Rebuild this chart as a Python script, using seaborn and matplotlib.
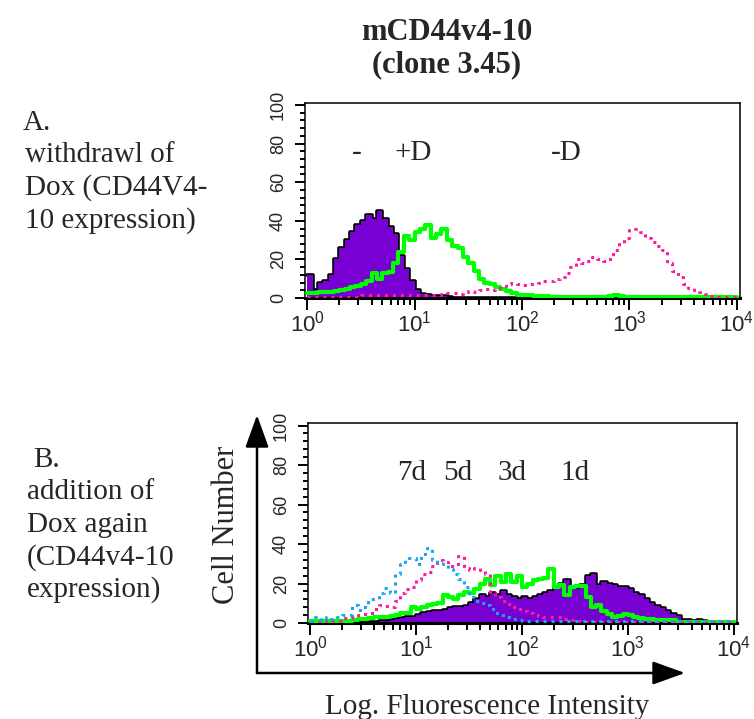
import numpy as np
import pandas as pd
import matplotlib
matplotlib.use("Agg")
import matplotlib.pyplot as plt
import seaborn as sns
from matplotlib.ticker import FixedLocator, MultipleLocator
from matplotlib import font_manager

# ---------------- data ----------------
decades = [0, 1, 2, 3, 4]
x_tick_labels = [r"$\mathregular{10^{%d}}$" % d for d in decades]
y_ticks = [0, 20, 40, 60, 80, 100]
y_tick_labels = ["0", "20", "40", "60", "80", "100"]

# channel grid: 80 channels over 4 decades (log10 units)
channel_edges = np.linspace(0, 4, 81)

# Panel A  (withdrawal of Dox)
a_neg = [12, 4, 8, 9, 12, 20, 26, 30, 34, 38,
         40, 43, 41, 45, 41, 37, 33, 22, 15, 9,
         4, 2, 1.5, 1, 1, 1, 0.5, 0, 0, 0,
         0, 0, 0, 0, 0, 0, 0, 0, 0, 0,
         0, 0, 0, 0, 0, 0, 0, 0, 0, 0,
         0, 0, 0, 0, 0, 0, 0.5, 1, 0.5, 0,
         0, 0, 0, 0, 0, 0, 0, 0, 0, 0,
         0, 0, 0, 0, 0, 0, 0, 0, 0, 0]
a_plus_dox = [2.5, 2.5, 3, 3, 3, 3.5, 4, 4.5, 5.5, 6,
              7.5, 9, 13, 10, 13, 13.5, 18, 24, 32, 30,
              34, 36, 38, 31, 33, 36, 30, 27, 26, 21,
              18, 14, 10, 8, 7, 5.5, 4.5, 3.5, 2.5, 1.8,
              1.5, 1.3, 1.2, 1.2, 1.0, 0.5, 0.5, 0.5, 0.5, 0.5,
              0.5, 0.5, 0.5, 0.5, 0.5, 0.5, 1, 1.5, 1, 0.5,
              0.5, 0.5, 0.5, 0.5, 0.5, 0.5, 0.5, 0.5, 0.5, 0.5,
              0.5, 0.5, 0.5, 0.5, 0.5, 0.5, 0.5, 0.5, 0.5, 0.5]
a_minus_dox = [0.5, 0.5, 0.5, 0.5, 0.5, 0.5, 0.5, 0.5, 0.5, 0.5,
               1.5, 1.5, 1.5, 1.5, 1.5, 1.5, 1.5, 1.5, 1.5, 1.5,
               1.5, 1.5, 1.5, 1.5, 1.5, 2, 2.5, 2.5, 2, 3,
               3.5, 3, 4, 4.5, 4, 5, 6, 7, 8, 7,
               6.5, 7.5, 7, 8, 9, 9, 10, 11, 13, 16,
               20, 18, 19, 21, 20, 19, 20, 25, 28, 31,
               35, 36, 34, 31, 29, 27, 25, 18, 14, 11,
               7, 5, 4, 3, 2, 1, 0.5, 0.5, 0.5, 0.5]
a_labels = ["-", "+D", "-D"]

# Panel B  (addition of Dox again)
b_1d = [0.5, 0.5, 0.5, 0.5, 0.5, 0.5, 0.5, 0.5, 0.5, 0.5,
        0.5, 0.5, 0.5, 1, 1.2, 1.5, 2, 2.5, 3, 3,
        4, 5, 5.5, 6, 6, 6.5, 7.5, 8, 8, 8.5,
        10, 12, 14, 13, 15, 14, 16, 14, 13, 12,
        13, 12, 13, 14, 15, 16, 18, 20, 22, 18,
        17, 19, 24, 25, 19, 21, 20, 19, 18, 18,
        17, 15, 14, 12, 10, 8.5, 7.5, 6, 4.5, 3.5,
        1.5, 1.5, 1.2, 1.5, 1, 0.5, 0.5, 0.5, 0.5, 0.5]
b_3d = [1, 1, 1, 1, 1, 1, 1, 1, 1.5, 2,
        2, 2.5, 3, 3, 3, 3.5, 4, 5, 5, 8,
        7, 8, 9, 9.5, 10, 14, 13, 12, 14, 15.5,
        15, 17, 20, 22.5, 19, 24, 21, 25, 21, 24,
        18, 20, 22, 22.5, 23, 27.5, 18, 19, 14, 18,
        18.5, 18.5, 13, 8, 9, 6, 4.5, 3, 3.5, 4.5,
        4, 3, 2.5, 2, 2, 1.5, 1.5, 1.5, 1.4, 0.5,
        0.5, 0.5, 0.5, 0.5, 0.5, 0.5, 0.5, 0.5, 0.5, 0.5]
b_5d = [0.5, 0.5, 1, 0.5, 1, 1, 2.5, 2.5, 3, 4,
        4.5, 5, 7, 9, 8.5, 8, 11, 15, 17, 18,
        22, 25, 26, 29, 32, 31, 29, 29, 34, 28,
        27, 28, 27, 25, 15, 13, 11, 9.5, 8, 7,
        6, 5, 4, 3.5, 3, 3, 3, 3, 2, 1.5,
        1, 0.5, 0.5, 0.5, 0.5, 0.5, 0.5, 0.5, 0.5, 0.5,
        0.5, 0.5, 0.5, 0.5, 0.5, 0.5, 0.5, 0.5, 0.5, 0.5,
        0.5, 0.5, 0.5, 0.5, 0.5, 0.5, 0.5, 0.5, 0.5, 0.5]
b_7d = [1, 3, 1.5, 3, 2, 3, 4, 4, 9, 6.5,
        8, 12, 12, 15, 17.5, 15, 25, 30, 33, 33,
        30, 35, 38, 32, 31, 30, 27.5, 25, 22.5, 18,
        13, 11, 10, 9, 7, 5, 4, 3, 2, 1.5,
        1, 1, 1, 1, 1, 1, 1, 1, 1, 1,
        1, 1, 1, 1, 1, 1, 1, 1, 1, 1,
        1, 1, 1, 1, 1, 1, 1, 1, 1, 1,
        1, 1, 1, 1, 1, 1, 1, 1, 1, 1]
b_labels = ["7d", "5d", "3d", "1d"]

# ---------------- style ----------------
PURPLE = "#7800D2"
GREEN = "#00FF00"
PINK = "#FF1A9E"
CYAN = "#12A6F5"

sns.set_theme(style="white")
names = {f.name for f in font_manager.fontManager.ttflist}
SANS = "Liberation Sans Narrow" if "Liberation Sans Narrow" in names else "Liberation Sans"
SERIF = "Liberation Serif"
plt.rcParams["font.family"] = [SERIF, "DejaVu Serif"]

W, H = 754, 719
fig = plt.figure(figsize=(W / 100, H / 100), dpi=100)


def fx(x):
    return x / W


def fy(y):
    return 1 - y / H


def rect(l, t, r, b):
    return [fx(l), fy(b), (r - l) / W, (b - t) / H]


ax_a = fig.add_axes(rect(305, 102.5, 740, 298))
ax_b = fig.add_axes(rect(308, 423, 737, 623))


def step_series(ax, vals, color, lw, ls="-", z=3):
    y = np.append(np.asarray(vals, float), vals[-1])
    sns.lineplot(x=channel_edges, y=y, ax=ax, drawstyle="steps-post",
                 color=color, linewidth=lw, linestyle=ls, estimator=None,
                 sort=False, legend=False, zorder=z)


def filled_series(ax, vals, z=2):
    y = np.append(np.asarray(vals, float), vals[-1])
    sns.lineplot(x=channel_edges, y=y, ax=ax, drawstyle="steps-post",
                 color="black", linewidth=2.6, estimator=None, sort=False,
                 legend=False, zorder=z)
    ax.fill_between(channel_edges, 0, y, step="post", color=PURPLE,
                    linewidth=0, zorder=z + 0.1)


DOT = (0, (1, 1.6))

filled_series(ax_a, a_neg)
step_series(ax_a, a_plus_dox, GREEN, 3.0, z=4)
step_series(ax_a, a_minus_dox, PINK, 2.2, DOT, z=5)

filled_series(ax_b, b_1d)
step_series(ax_b, b_3d, GREEN, 3.0, z=4)
step_series(ax_b, b_5d, PINK, 2.2, DOT, z=5)
step_series(ax_b, b_7d, CYAN, 2.2, DOT, z=6)

minor_pos = [d + np.log10(m) for d in decades[:-1] for m in range(2, 10)]
for ax in (ax_a, ax_b):
    ax.set_xlim(-0.02, 4.03)
    ax.set_ylim(0, 101.3)
    ax.set_xlabel("")
    ax.set_ylabel("")
    ax.xaxis.set_major_locator(FixedLocator(decades))
    ax.xaxis.set_minor_locator(FixedLocator(minor_pos))
    ax.set_xticklabels(x_tick_labels, fontsize=16, family=SANS)
    ax.yaxis.set_major_locator(FixedLocator(y_ticks))
    ax.yaxis.set_minor_locator(MultipleLocator(4))
    ax.set_yticklabels(y_tick_labels, rotation=90, va="center",
                       fontsize=13, family=SANS)
    ax.tick_params(axis="x", which="major", direction="out", length=8.5,
                   width=1.4, pad=0.5, color="black", bottom=True)
    ax.tick_params(axis="x", which="minor", direction="out", length=5,
                   width=1.4, color="black", bottom=True)
    ax.tick_params(axis="y", which="major", direction="out", length=7,
                   width=1.4, pad=6, color="black", left=True)
    ax.tick_params(axis="y", which="minor", direction="out", length=3.6,
                   width=1.4, color="black", left=True)
    for side in ("left", "top", "right"):
        ax.spines[side].set_color("black")
        ax.spines[side].set_linewidth(1.1)
    ax.spines["bottom"].set_color("black")
    ax.spines["bottom"].set_linewidth(2.2)
    ax.set_facecolor("white")

# ---------------- texts ----------------
FS = 21
fig.text(fx(447), fy(33), "mCD44v4-10", ha="center", va="center",
         fontsize=22, fontweight="bold")
fig.text(fx(447), fy(65), "(clone 3.45)", ha="center", va="center",
         fontsize=22, fontweight="bold")

fig.text(fx(23), fy(130), "A.", fontsize=FS, va="baseline")
for txt, yb in zip(["withdrawl of", "Dox (CD44V4-", "10 expression)"],
                   [162, 195, 228]):
    fig.text(fx(25), fy(yb), txt, fontsize=FS, va="baseline")

fig.text(fx(33), fy(467), "B.", fontsize=FS, va="baseline")
for txt, yb in zip(["addition of", "Dox again", "(CD44v4-10", "expression)"],
                   [499, 532, 565, 597]):
    fig.text(fx(27), fy(yb), txt, fontsize=FS, va="baseline")

for txt, xc in zip(a_labels, [357, 413, 566]):
    fig.text(fx(xc), fy(160), txt, fontsize=FS, ha="center", va="baseline")
for txt, xc in zip(b_labels, [412, 458, 512, 575]):
    fig.text(fx(xc), fy(480), txt, fontsize=FS, ha="center", va="baseline")

fig.text(fx(226), fy(525), "Cell Number", fontsize=22, rotation=90,
         ha="center", va="center")
fig.text(fx(487), fy(714), "Log. Fluorescence Intensity", fontsize=FS,
         ha="center", va="baseline")

arrow_kw = dict(arrowstyle="-|>,head_length=1.0,head_width=0.36",
                color="black", lw=1.8, mutation_scale=20,
                shrinkA=0, shrinkB=0)
fig.add_artist(matplotlib.patches.FancyArrowPatch(
    (fx(257), fy(673)), (fx(257), fy(415)), transform=fig.transFigure,
    **arrow_kw))
fig.add_artist(matplotlib.patches.FancyArrowPatch(
    (fx(257), fy(673)), (fx(685), fy(673)), transform=fig.transFigure,
    **arrow_kw))

fig.savefig("out.png", dpi=100, facecolor="white")
